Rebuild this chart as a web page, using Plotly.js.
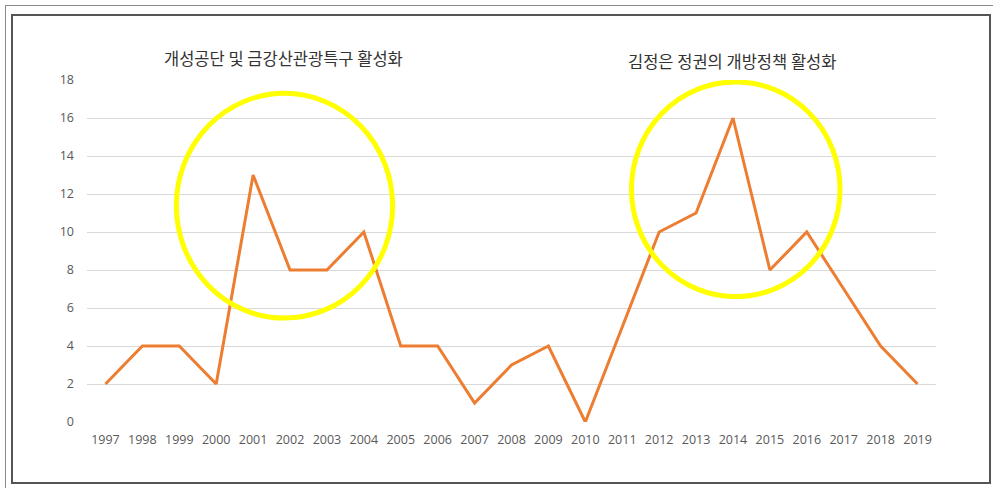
<!DOCTYPE html>
<html>
<head>
<meta charset="utf-8">
<script src="https://cdn.plot.ly/plotly-3.0.1.min.js"></script>
<style>
  html, body { margin: 0; padding: 0; background: #fff; }
  #wrap { position: relative; width: 993px; height: 488px; overflow: hidden; }
  #chart { position: absolute; left: 0; top: 0; width: 993px; height: 488px; }
  .b1 { position: absolute; left: 5px; top: 5px; width: 1000px; height: 1000px; border-left: 1px solid #8a8a8a; border-top: 1px solid #8a8a8a; pointer-events: none; }
  .b2 { position: absolute; left: 11px; top: 14px; width: 976px; height: 466px; border: 2px solid #555; pointer-events: none; }
</style>
</head>
<body>
<div id="wrap">
  <div id="chart"></div>
  <div class="b1"></div>
  <div class="b2"></div>
</div>
<script>
const years = [1997,1998,1999,2000,2001,2002,2003,2004,2005,2006,2007,2008,2009,2010,2011,2012,2013,2014,2015,2016,2017,2018,2019];
const counts = [2,4,4,2,13,8,8,10,4,4,1,3,4,0,5,10,11,16,8,10,7,4,2];
const yTicks = [0,2,4,6,8,10,12,14,16,18];
const notes = ["개성공단 및 금강산관광특구 활성화", "김정은 정권의 개방정책 활성화"];

const trace = {
  x: years, y: counts, type: 'scatter', mode: 'lines',
  line: {color: '#ED7D31', width: 3},
  hoverinfo: 'skip'
};

const layout = {
  width: 993, height: 488,
  margin: {l: 87, r: 57, t: 80, b: 66},
  paper_bgcolor: '#ffffff', plot_bgcolor: '#ffffff',
  showlegend: false,
  font: {family: '"Open Sans", "Noto Sans CJK KR", sans-serif', color: '#595959', size: 12},
  xaxis: {
    range: [1996.5, 2019.5], tickvals: years, ticktext: years.map(String),
    showgrid: false, zeroline: false, showline: false, ticks: '', ticklabelstandoff: 8,
    tickfont: {size: 12.5, color: '#595959'}, fixedrange: true
  },
  yaxis: {
    range: [0, 18], tickvals: yTicks, showgrid: true, gridcolor: '#d9d9d9', gridwidth: 1,
    zeroline: false, showline: false, ticks: '', ticklabelstandoff: 12,
    tickfont: {size: 12.5, color: '#595959'}, fixedrange: true
  },
  shapes: [
    {type: 'circle', xref: 'x', yref: 'y', x0: 1998.92, x1: 2004.78, y0: 5.47, y1: 17.3,
     line: {color: '#FFFF00', width: 5}},
    {type: 'circle', xref: 'x', yref: 'y', x0: 2011.25, x1: 2016.9, y0: 6.6, y1: 17.9,
     line: {color: '#FFFF00', width: 5}}
  ],
  annotations: [
    {text: notes[0], xref: 'paper', yref: 'paper', x: 0.231, y: 1.064, showarrow: false,
     xanchor: 'center', yanchor: 'middle',
     font: {family: '"Noto Sans CJK KR", sans-serif', size: 16.5, color: '#333333'}},
    {text: notes[1], xref: 'paper', yref: 'paper', x: 0.760, y: 1.056, showarrow: false,
     xanchor: 'center', yanchor: 'middle',
     font: {family: '"Noto Sans CJK KR", sans-serif', size: 16.5, color: '#333333'}}
  ]
};

Plotly.newPlot('chart', [trace], layout, {displayModeBar: false, staticPlot: true});
</script>
</body>
</html>
